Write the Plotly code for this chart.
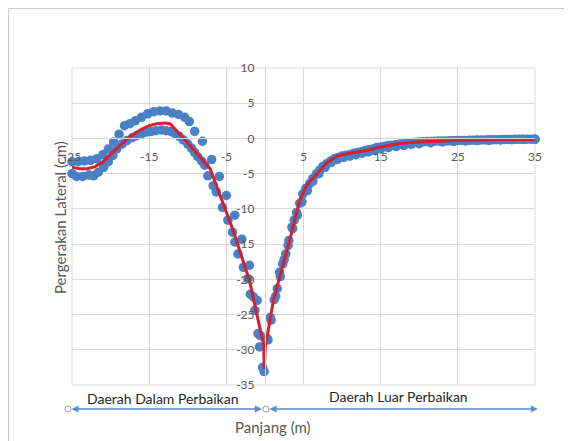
import plotly.graph_objects as go

# ---- data ----
upper_x = [-25.0, -24.2, -23.4, -22.6, -21.8, -21.0, -20.3, -19.6, -18.9, -18.2, -17.5, -16.8,
           -16.0, -15.2, -14.4, -13.6, -12.8, -12.0, -11.2, -10.4, -9.8, -9.1, -8.1, -6.9,
           -5.9, -5.0, -3.9, -3.0, -2.0, -1.0, -0.6, -0.3,
           0.3, 0.7, 1.2, 1.6, 1.9, 2.3, 2.7, 3.1, 3.5, 3.8, 4.1, 4.5, 4.9, 5.3, 5.8, 6.2,
           6.7, 7.1, 7.5, 8.0, 8.5, 9.0, 9.5, 10.0, 10.5, 11.0, 11.5, 12.0, 12.5, 13.0,
           13.5, 14.0, 14.5, 15.0, 15.5, 16.0, 16.5, 17.0, 17.5, 18.0, 18.5, 19.0, 19.5,
           20.0, 20.5, 21.0, 21.5, 22.0, 22.5, 23.0, 23.5, 24.0, 24.5, 25.0, 25.5, 26.0,
           26.5, 27.0, 27.5, 28.0, 28.5, 29.0, 29.5, 30.0, 30.5, 31.0, 31.5, 32.0, 32.5,
           33.0, 33.5, 34.0, 34.5, 35.0]
upper_y = [-3.3, -3.3, -3.2, -3.1, -2.9, -2.3, -1.5, -0.5, 0.6, 1.8, 2.1, 2.5,
           3.0, 3.5, 3.8, 3.9, 3.9, 3.6, 3.4, 3.0, 2.4, 1.0, -0.4, -3.0,
           -5.4, -8.1, -10.9, -14.3, -18.0, -23.0, -28.0, -32.5,
           -28.4, -25.4, -22.9, -21.3, -19.0, -17.8, -16.4, -14.5, -12.6, -11.6, -10.5,
           -9.2, -7.9, -7.1, -6.4, -5.7, -5.0, -4.5, -4.0, -3.6, -3.2, -2.9, -2.7, -2.5,
           -2.4, -2.3, -2.1, -2.0, -1.9, -1.7, -1.6, -1.5, -1.3, -1.2, -1.1, -1.0, -0.95,
           -0.9, -0.8, -0.75, -0.7, -0.6, -0.55,
           -0.5, -0.48, -0.45, -0.43, -0.4, -0.38, -0.37, -0.35, -0.33, -0.31, -0.3, -0.29,
           -0.28, -0.26, -0.25, -0.23, -0.22, -0.21, -0.2, -0.19, -0.18, -0.17, -0.16,
           -0.15, -0.14, -0.13, -0.12, -0.11, -0.1, -0.1, -0.1]

lower_x = [-25.0, -24.4, -23.6, -22.8, -22.2, -21.6, -20.9, -20.3, -19.7, -19.2, -18.5,
           -17.9, -17.2, -16.6, -15.9, -15.3, -14.7, -14.1, -13.4, -12.8, -12.2, -11.7,
           -11.1, -10.6, -10.0, -9.5, -9.1, -8.7, -8.2, -7.8, -7.4, -6.7, -6.3, -5.5,
           -4.8, -4.2, -3.9, -3.5, -2.8, -2.2, -1.9, -1.5, -1.3, -0.9, -0.7, -0.1,
           0.4, 0.8, 1.4, 2.0, 2.5, 3.0, 3.6, 4.2, 4.8, 5.5, 6.2, 7.0, 7.8, 8.6, 9.4,
           10.2, 11.0, 11.8, 12.6, 13.4, 14.2, 15.0, 16.0, 17.0, 18.0, 19.0, 20.0,
           21.5, 23.0, 24.5, 26.0, 27.5, 29.0, 30.5, 32.0, 33.5, 35.0]
lower_y = [-5.0, -5.4, -5.4, -5.2, -5.3, -4.8, -4.1, -3.3, -2.4, -1.5, -0.8,
           -0.3, 0.1, 0.4, 0.7, 0.9, 1.0, 1.1, 1.2, 1.1, 1.0, 0.7,
           0.3, -0.2, -0.8, -1.4, -2.0, -2.6, -3.2, -3.8, -5.3, -6.7, -7.6, -9.8,
           -11.6, -13.3, -14.7, -16.4, -18.3, -19.9, -22.1, -22.5, -24.4, -27.7, -29.6, -33.1,
           -28.6, -25.8, -22.4, -19.6, -17.2, -15.2, -12.8, -10.9, -9.0, -7.4, -6.1, -5.0,
           -4.1, -3.4, -3.0, -2.7, -2.5, -2.3, -2.1, -1.9, -1.7, -1.5, -1.3, -1.15, -1.0,
           -0.85, -0.75, -0.6, -0.5, -0.42, -0.36, -0.3, -0.26, -0.22, -0.18, -0.15, -0.12]

fit_x = [-25.0, -24.0, -23.0, -22.0, -21.0, -20.0, -19.0, -18.0, -17.0, -16.0, -15.0,
         -14.0, -13.0, -12.3, -10.0, -7.1, -4.1, -2.0, -0.15, -0.1, 0.05, 1.1, 3.2,
         4.5, 5.5, 6.7, 8.0, 9.3, 11.0, 13.2, 15.0, 17.5, 20.0, 25.0, 30.0, 35.0]
fit_y = [-4.1, -4.3, -4.3, -4.0, -3.3, -2.3, -1.2, -0.2, 0.6, 1.3, 1.8,
         2.1, 2.2, 2.1, -0.6, -4.3, -13.1, -20.2, -29.4, -32.7, -29.6, -23.0, -14.5,
         -8.8, -6.5, -5.0, -3.5, -2.5, -2.1, -1.7, -1.2, -0.7, -0.5, -0.3, -0.2, -0.1]

x_ticks = [-25, -15, -5, 5, 15, 25, 35]
y_ticks = [10, 5, 0, -5, -10, -15, -20, -25, -30, -35]

region_in = "Daerah Dalam Perbaikan"
region_out = "Daerah Luar Perbaikan"
x_title = "Panjang (m)"
y_title = "Pergerakan Lateral (cm)"

FONT = "Lato"
GRAY = "#595959"
GRID = "#d9d9d9"
DOT = "#4a80c4"
RED = "#d42030"
ARROW = "#5b8ccc"

fig = go.Figure()
for xs, ys in [(upper_x, upper_y), (lower_x, lower_y)]:
    fig.add_trace(go.Scatter(x=xs, y=ys, mode="markers",
                             marker=dict(size=9.5, color=DOT), showlegend=False,
                             cliponaxis=False))
fig.add_trace(go.Scatter(x=fit_x, y=fit_y, mode="lines",
                         line=dict(color=RED, width=3), showlegend=False))

# page has an 8px body margin; the figure fills the rest of the 572x441 window
OFF = 8
W, H = 572 - OFF, 441 - OFF
# plot area in page pixels: x 72..535, y 68..385
PL, PR, PT, PB = 72, 535, 68, 385
L, R, T, B = PL - OFF, W - (PR - OFF), PT - OFF, H - (PB - OFF)
pw, ph = PR - PL, PB - PT

def px2paper_x(p):
    return (p - PL) / pw

def py2paper_y(p):
    return (PB - p) / ph

fig.update_layout(
    width=W, height=H,
    margin=dict(l=L, r=R, t=T, b=B, autoexpand=False),
    paper_bgcolor="white", plot_bgcolor="white",
    font=dict(family=FONT, color=GRAY, size=12),
    xaxis=dict(range=[-25, 35], tickvals=x_ticks, ticktext=[str(v) for v in x_ticks],
               showgrid=True, gridcolor=GRID, gridwidth=1, zeroline=False,
               showline=True, linecolor=GRID, linewidth=1, automargin=False,
               anchor="free", position=35 / 45, ticks="outside", ticklen=7,
               tickcolor="rgba(0,0,0,0)", tickfont=dict(size=12, color=GRAY, family=FONT)),
    yaxis=dict(range=[-35, 10], tickvals=y_ticks, ticktext=[str(v) for v in y_ticks],
               showgrid=True, gridcolor=GRID, gridwidth=1, zeroline=False,
               showline=True, linecolor=GRID, linewidth=1, automargin=False,
               anchor="free", position=25 / 60, ticks="outside", ticklen=8,
               tickcolor="rgba(0,0,0,0)", tickfont=dict(size=12, color=GRAY, family=FONT)),
)

# frame edges (outer gridlines)
fig.add_shape(type="rect", xref="paper", yref="paper", x0=0, x1=1, y0=0, y1=1,
              line=dict(color=GRID, width=1), layer="below")
# chart-area border (top and left)
fig.add_shape(type="line", xref="paper", yref="paper",
              x0=px2paper_x(8.5), x1=px2paper_x(580), y0=py2paper_y(8.5), y1=py2paper_y(8.5),
              line=dict(color="#cccccc", width=1.2))
fig.add_shape(type="line", xref="paper", yref="paper",
              x0=px2paper_x(8.5), x1=px2paper_x(8.5), y0=py2paper_y(8.5), y1=py2paper_y(450),
              line=dict(color="#cccccc", width=1.2))

def label(text, x, y, size, color, angle=0):
    fig.add_annotation(text=text, xref="paper", yref="paper", x=px2paper_x(x),
                       y=py2paper_y(y), xanchor="center", yanchor="middle",
                       showarrow=False, textangle=angle,
                       font=dict(size=size, color=color, family=FONT))

label(x_title, 273, 427, 15, GRAY)
label(y_title, 60, 218, 15, GRAY, -90)
label(region_in, 163, 398, 14, "#262626")
label(region_out, 398, 396, 14, "#262626")

# double arrows
ay_arr = py2paper_y(409)
for x_start, x_end in [(70, 262), (268, 538)]:
    fig.add_annotation(text="", xref="paper", yref="paper", x=px2paper_x(x_end), y=ay_arr,
                       axref="pixel", ayref="pixel", ax=-(x_end - x_start), ay=0,
                       showarrow=True, arrowside="end+start", arrowhead=2, startarrowhead=2,
                       arrowsize=1.1, startarrowsize=1.1, arrowwidth=1.3, arrowcolor=ARROW,
                       standoff=0, startstandoff=0)
    fig.add_shape(type="circle", xref="paper", yref="paper", xsizemode="pixel",
                  ysizemode="pixel", xanchor=px2paper_x(x_start), yanchor=ay_arr,
                  x0=-5, x1=1, y0=-3, y1=3, line=dict(color="#a0a0a0", width=1),
                  fillcolor="white")

fig.write_html("out.html")
